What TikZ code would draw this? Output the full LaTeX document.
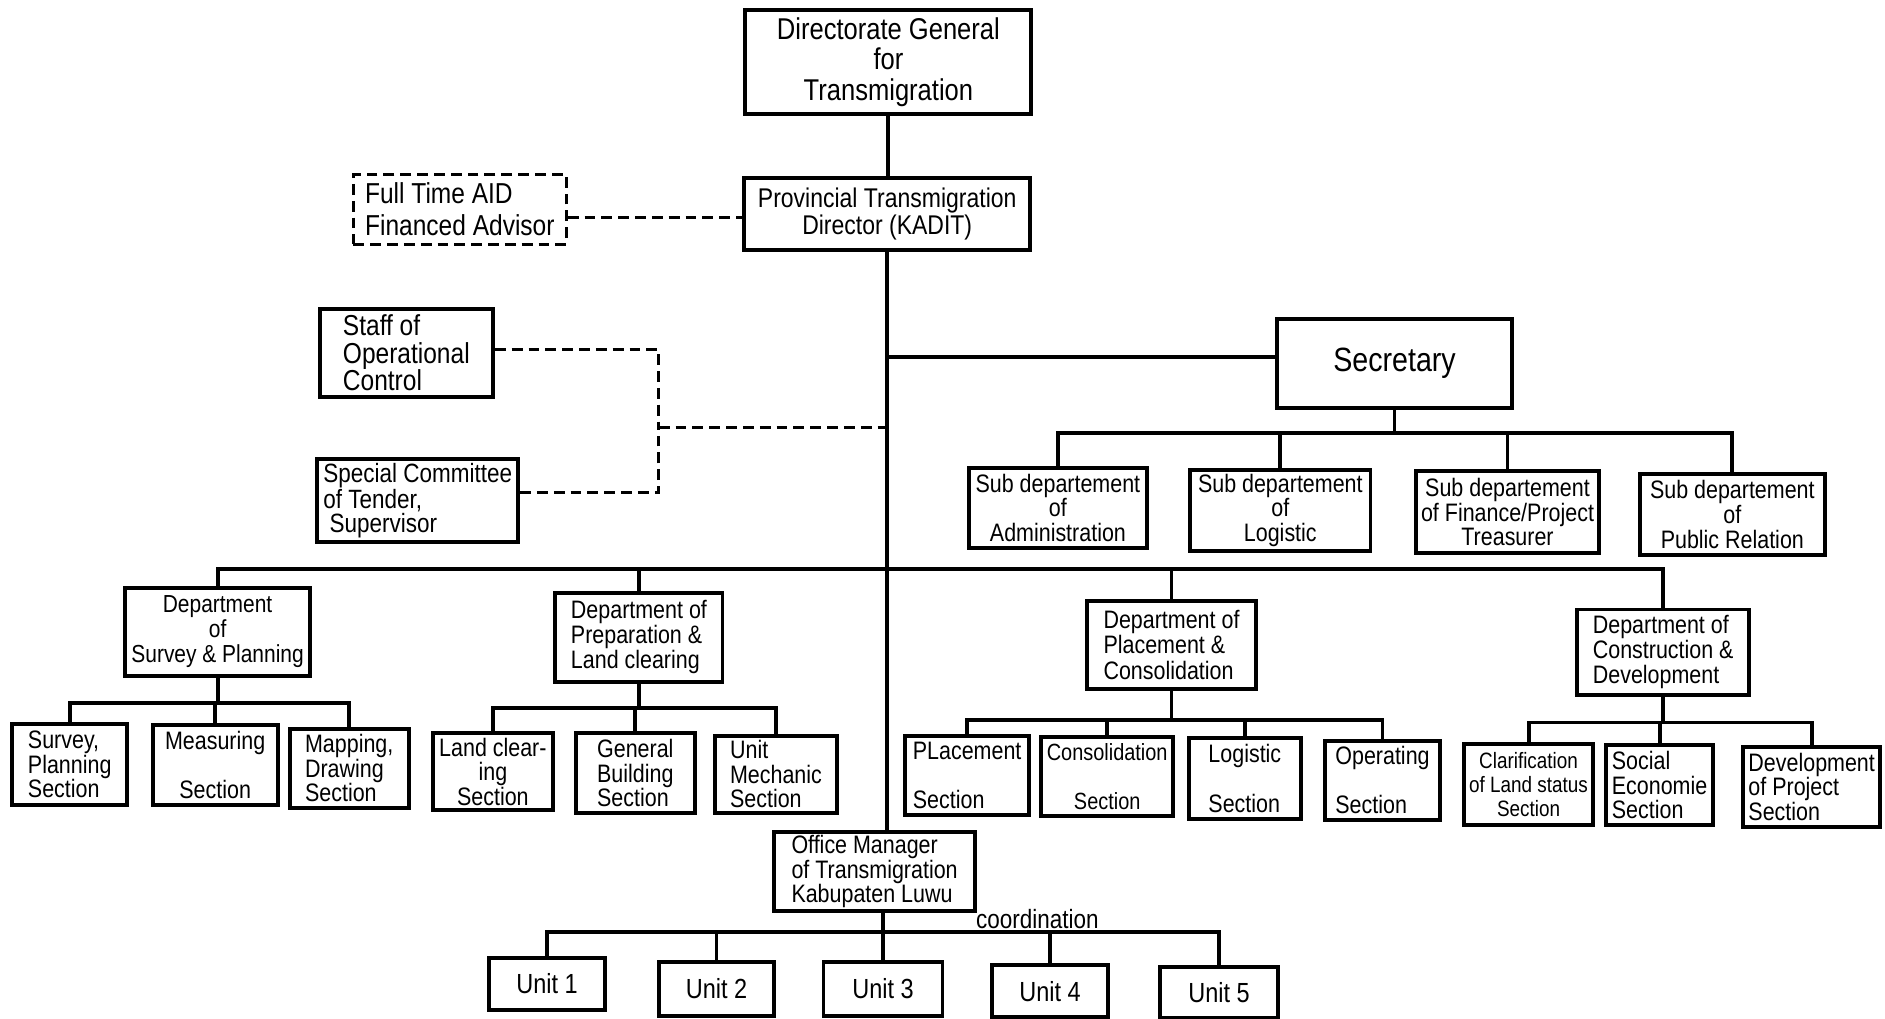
\documentclass[tikz,border=0pt]{standalone}
\usepackage{fontspec}
\setmainfont{Liberation Sans}[FakeStretch=0.85]
\newcommand\fsz[2]{\fontsize{#1}{#2}\selectfont}
\begin{document}
\begin{tikzpicture}[x=1pt,y=-1pt,
  box/.style={draw,line width=3.3pt,inner sep=1pt,align=center,font=\fsz{21}{20.5}},
  conn/.style={line width=3.2pt},
  dconn/.style={line width=2.5pt,dash pattern=on 9pt off 5pt},
]
\useasboundingbox[fill=white] (0,0) rectangle (1568,847);

% top
\node[box,minimum width=238pt,minimum height=87pt,font=\fsz{25}{25.5}] (dg) at (739,51.5) {Directorate General\\for\\Transmigration};
\node[box,minimum width=238pt,minimum height=60pt,font=\fsz{22.5}{23}] (prov) at (738,178) {Provincial Transmigration\\Director (KADIT)};
\node[box,dash pattern=on 9pt off 5pt,line width=2.5pt,minimum width=177pt,minimum height=58pt,align=left,font=\fsz{24}{26}] (aid) at (382.5,174) {Full Time AID\\Financed Advisor};
\node[box,minimum width=144pt,minimum height=73pt,align=left,font=\fsz{24}{23}] (staff) at (338,293.5) {Staff of\\Operational\\Control};
\node[box,minimum width=167pt,minimum height=69pt,align=left,font=\fsz{22}{20.5}] (comm) at (347.5,416.5) {Special Committee\\of Tender,\\\ Supervisor};
\node[box,minimum width=196pt,minimum height=74pt,font=\fsz{28}{28}] (sec) at (1160,302) {Secretary};

% sub departements
\node[box,minimum width=148pt,minimum height=67pt] (sadm) at (880,422.5) {Sub departement\\of\\Administration};
\node[box,minimum width=150pt,minimum height=67pt] (slog) at (1065,424.5) {Sub departement\\of\\Logistic};
\node[box,minimum width=152pt,minimum height=68pt] (sfin) at (1254,426) {Sub departement\\of Finance/Project\\Treasurer};
\node[box,minimum width=154pt,minimum height=68pt] (spr) at (1441,428) {Sub departement\\of\\Public Relation};

% departments
\node[box,minimum width=154pt,minimum height=73pt,font=\fsz{20.5}{21}] (dsp) at (181,525.5) {Department\\of\\Survey \& Planning};
\node[box,minimum width=139pt,minimum height=74pt,align=left,font=\fsz{21}{21}] (dprep) at (531.5,530) {Department of\\Preparation \&\\Land clearing};
\node[box,minimum width=141pt,minimum height=73pt,align=left,font=\fsz{21}{21}] (dplac) at (974.5,536.5) {Department of\\Placement \&\\Consolidation};
\node[box,minimum width=143pt,minimum height=71pt,align=left,font=\fsz{21}{21}] (dcon) at (1383.5,542.5) {Department of\\Construction \&\\Development};

% sections
\node[box,minimum width=96pt,minimum height=68pt,align=left] (s1) at (58,636) {Survey,\\Planning\\Section};
\node[box,minimum width=104pt,minimum height=67pt] (s2) at (179,636.5) {Measuring\\\mbox{}\\Section};
\node[box,minimum width=99pt,minimum height=66pt,align=left] (s3) at (290.5,639) {Mapping,\\Drawing\\Section};
\node[box,minimum width=100pt,minimum height=64pt] (s4) at (410,642) {Land clear-\\ing\\Section};
\node[box,minimum width=99pt,minimum height=66pt,align=left] (s5) at (528.5,643) {General\\Building\\Section};
\node[box,minimum width=101pt,minimum height=64pt,align=left] (s6) at (645.5,644) {Unit\\Mechanic\\Section};
\node[box,minimum width=103pt,minimum height=66pt,align=left] (p1) at (804.5,645) {PLacement\\\mbox{}\\Section};
\node[box,minimum width=110pt,minimum height=66pt,font=\fsz{19.5}{20}] (p2) at (921,646) {Consolidation\\\mbox{}\\Section};
\node[box,minimum width=93pt,minimum height=67pt,align=left] (p3) at (1035.5,647.5) {Logistic\\\mbox{}\\Section};
\node[box,minimum width=96pt,minimum height=66pt,align=left] (p4) at (1150,649) {Operating\\\mbox{}\\Section};
\node[box,minimum width=107pt,minimum height=67pt,font=\fsz{18.5}{20}] (c1) at (1271.5,652.5) {Clarification\\of Land status\\Section};
\node[box,minimum width=89pt,minimum height=66pt,align=left] (c2) at (1380.5,653) {Social\\Economie\\Section};
\node[box,minimum width=114pt,minimum height=67pt,align=left] (c3) at (1507,654.5) {Development\\of Project\\Section};

% office manager and units
\node[box,minimum width=167pt,minimum height=66pt,align=left,font=\fsz{21}{20.5}] (om) at (727.5,725) {Office Manager\\of Transmigration\\Kabupaten Luwu};
\node[box,minimum width=96pt,minimum height=43pt,font=\fsz{23}{23}] (u1) at (455,818.5) {Unit 1};
\node[box,minimum width=96pt,minimum height=45pt,font=\fsz{23}{23}] (u2) at (596,822.5) {Unit 2};
\node[box,minimum width=99pt,minimum height=45pt,font=\fsz{23}{23}] (u3) at (734.5,822.5) {Unit 3};
\node[box,minimum width=97pt,minimum height=43pt,font=\fsz{23}{23}] (u4) at (873.5,824.5) {Unit 4};
\node[box,minimum width=98pt,minimum height=43pt,font=\fsz{23}{23}] (u5) at (1014,825.5) {Unit 5};
\node[anchor=base,font=\fsz{22}{22}] (coord) at (863,772) {coordination};

% solid connectors
\draw[conn] (dg.south) -- (dg.south |- prov.north);
\draw[conn] (prov.south) -- (prov.south |- om.north);
\coordinate (secj) at (738,297);
\draw[conn] (secj) -- (secj -| sec.west);
\coordinate (sbus) at (1160,360);
\draw[conn] (sec.south) -- (sbus);
\foreach \n in {sadm,slog,sfin,spr} \draw[conn] (\n.north) |- (sbus);
\coordinate (mbus) at (738,473);
\foreach \n in {dsp,dprep,dplac,dcon} \draw[conn] (\n.north) |- (mbus);
\coordinate (b1) at (dsp.south |- 0,585);
\coordinate (b2) at (dprep.south |- 0,589);
\coordinate (b3) at (dplac.south |- 0,599);
\coordinate (b4) at (dcon.south |- 0,601);
\draw[conn] (dsp.south) -- (b1);
\draw[conn] (dprep.south) -- (b2);
\draw[conn] (dplac.south) -- (b3);
\draw[conn] (dcon.south) -- (b4);
\foreach \n in {s1,s2,s3} \draw[conn] (\n.north) |- (b1);
\foreach \n in {s4,s5,s6} \draw[conn] (\n.north) |- (b2);
\foreach \n in {p1,p2,p3,p4} \draw[conn] (\n.north) |- (b3);
\foreach \n in {c1,c2,c3} \draw[conn] (\n.north) |- (b4);
\coordinate (ubus) at (u3.north |- 0,775);
\draw[conn] (u3.north |- om.south) -- (u3.north);
\foreach \n in {u1,u2,u4,u5} \draw[conn] (\n.north) |- (ubus);

% dashed connectors
\draw[dconn] (aid.east |- 0,181) -- (prov.west |- 0,181);
\coordinate (dj) at (548,356);
\draw[dconn] (staff.east |- 0,291) -| (dj);
\draw[dconn] (comm.east |- 0,410) -| (dj);
\draw[dconn] (dj) -- (dj -| prov.south);
\end{tikzpicture}
\end{document}
